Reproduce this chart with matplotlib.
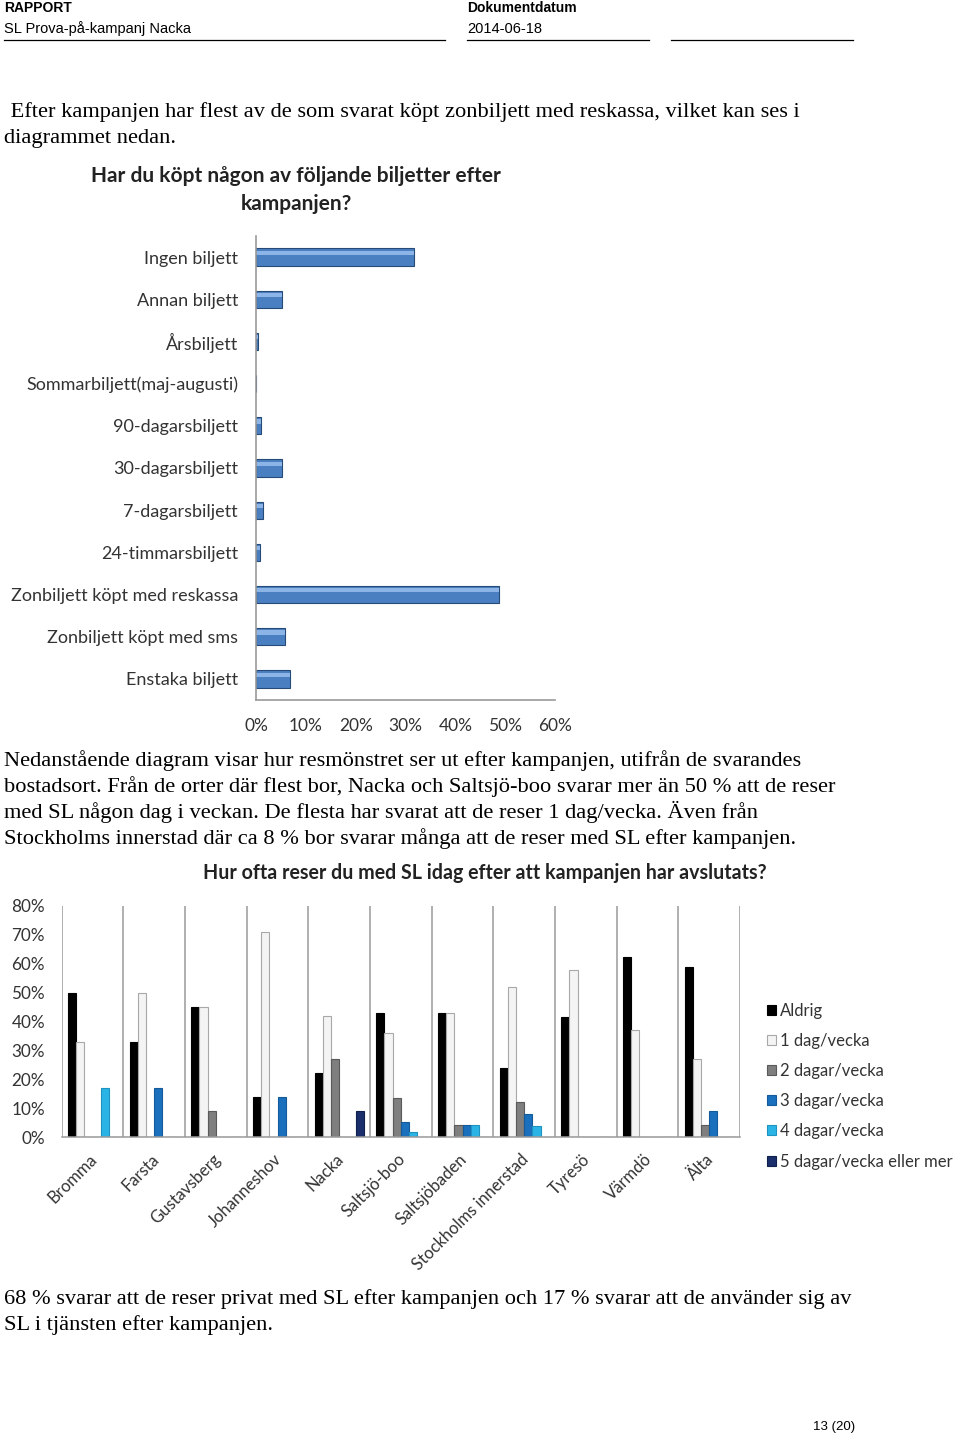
import numpy as np
import matplotlib
matplotlib.use("Agg")
import matplotlib.pyplot as plt

# ---- data: chart 1 (ticket types bought after the campaign)
ticket_types = ["Ingen biljett", "Annan biljett", "Årsbiljett",
                "Sommarbiljett(maj-augusti)", "90-dagarsbiljett",
                "30-dagarsbiljett", "7-dagarsbiljett", "24-timmarsbiljett",
                "Zonbiljett köpt med reskassa", "Zonbiljett köpt med sms",
                "Enstaka biljett"]
ticket_share = [31.7, 5.2, 0.5, 0.0, 1.1, 5.2, 1.5, 0.8, 48.8, 5.8, 6.9]
ticket_ticks = [0, 10, 20, 30, 40, 50, 60]

# ---- data: chart 2 (travel frequency per area)
areas = ["Bromma", "Farsta", "Gustavsberg", "Johanneshov", "Nacka",
         "Saltsjö-boo", "Saltsjöbaden", "Stockholms innerstad", "Tyresö",
         "Värmdö", "Älta"]
freq_labels = ["Aldrig", "1 dag/vecka", "2 dagar/vecka", "3 dagar/vecka",
               "4 dagar/vecka", "5 dagar/vecka eller mer"]
aldrig = [50, 33, 45, 14, 22, 43, 43, 24, 41.5, 62.5, 59]
dag1 = [33, 50, 45, 71, 42, 36, 43, 52, 58, 37, 27]
dag2 = [0, 0, 9, 0, 27, 13.5, 4.3, 12, 0, 0, 4.3]
dag3 = [0, 17, 0, 14, 0, 5.2, 4.3, 8, 0, 0, 9]
dag4 = [17, 0, 0, 0, 0, 1.7, 4.3, 3.8, 0, 0, 0]
dag5 = [0, 0, 0, 0, 9, 0, 0, 0, 0, 0, 0]
freq_ticks = [0, 10, 20, 30, 40, 50, 60, 70, 80]

W, H = 960, 1436
fig = plt.figure(figsize=(W / 100, H / 100), dpi=100)


def fx(x):
    return x / W


def fy(y):
    return 1 - y / H


def box(l, t, r, b):
    return [fx(l), fy(b), (r - l) / W, (b - t) / H]


# ---- page header
hdr = "Liberation Sans"
fig.text(fx(4), fy(8), "RAPPORT", family=hdr, weight="bold", fontsize=10, va="center")
fig.text(fx(4), fy(29), "SL Prova-på-kampanj Nacka", family=hdr, fontsize=10.5, va="center")
fig.text(fx(467), fy(8), "Dokumentdatum", family=hdr, weight="bold", fontsize=10, va="center")
fig.text(fx(467), fy(29), "2014-06-18", family=hdr, fontsize=10.5, va="center")
for x0, x1 in [(4, 445), (467, 649), (671, 853)]:
    fig.add_artist(plt.Line2D([fx(x0), fx(x1)], [fy(39.5), fy(39.5)], color="black", lw=0.9))
fig.text(fx(855), fy(1427), "13 (20)", family=hdr, fontsize=9.5, ha="right", va="center")

# ---- body text
body = dict(family="Liberation Serif", fontsize=16.1, va="center")
fig.text(fx(5), fy(112), " Efter kampanjen har flest av de som svarat köpt zonbiljett med reskassa, vilket kan ses i", **body)
fig.text(fx(4), fy(138), "diagrammet nedan.", **body)
para = ["Nedanstående diagram visar hur resmönstret ser ut efter kampanjen, utifrån de svarandes",
        "bostadsort. Från de orter där flest bor, Nacka och Saltsjö-boo svarar mer än 50 % att de reser",
        "med SL någon dag i veckan. De flesta har svarat att de reser 1 dag/vecka. Även från",
        "Stockholms innerstad där ca 8 % bor svarar många att de reser med SL efter kampanjen."]
for i, line in enumerate(para):
    fig.text(fx(4), fy(761 + 25.7 * i), line, **body)
fig.text(fx(4), fy(1299), "68 % svarar att de reser privat med SL efter kampanjen och 17 % svarar att de använder sig av", **body)
fig.text(fx(4), fy(1325), "SL i tjänsten efter kampanjen.", **body)

cf = "Lato"

# ---- chart 1
ax1 = fig.add_axes(box(256, 236, 555, 700))
ypos = np.arange(len(ticket_types))
ax1.barh(ypos, ticket_share, height=0.41, color="#4a7fc1", edgecolor="#274b78", lw=0.8)
ax1.barh(ypos - 0.1, ticket_share, height=0.1, color="#8db4e6", lw=0)
ax1.set_ylim(len(ticket_types) - 0.5, -0.5)
ax1.set_xlim(0, 60)
ax1.set_yticks(ypos)
ax1.set_yticklabels(ticket_types, family=cf, fontsize=13, color="#333333")
ax1.set_xticks(ticket_ticks)
ax1.set_xticklabels([f"{t}%" for t in ticket_ticks], family=cf, fontsize=12.5, color="#333333")
ax1.tick_params(axis="y", length=0, pad=13)
ax1.tick_params(axis="x", length=0, pad=13)
for s in ["top", "right"]:
    ax1.spines[s].set_visible(False)
for s in ["left", "bottom"]:
    ax1.spines[s].set_color("#999999")
    ax1.spines[s].set_linewidth(1.2)
fig.text(fx(296), fy(176), "Har du köpt någon av följande biljetter efter", family=cf,
         weight="bold", fontsize=15, ha="center", va="center", color="#222222")
fig.text(fx(296), fy(204), "kampanjen?", family=cf, weight="bold", fontsize=15,
         ha="center", va="center", color="#222222")

# ---- chart 2
ax2 = fig.add_axes(box(61.7, 906, 740, 1137))
series = [aldrig, dag1, dag2, dag3, dag4, dag5]
faces = ["#000000", "#f4f4f4", "#7f7f7f", "#1a70bd", "#2ab4e6", "#1a2f6b"]
edges = ["#000000", "#a8a8a8", "#5a5a5a", "#155a99", "#1e93bf", "#10204d"]
bw = 0.133
xc = np.arange(len(areas)) + 0.5
handles = []
for k, (vals, fc, ec) in enumerate(zip(series, faces, edges)):
    off = (k - 2.5) * bw
    b = ax2.bar(xc + off, vals, width=bw, color=fc, edgecolor=ec, lw=0.8,
                label=freq_labels[k])
    handles.append(b)
ax2.set_xlim(0, len(areas))
ax2.set_ylim(0, 80)
ax2.set_yticks(freq_ticks)
ax2.set_yticklabels([f"{t}%" for t in freq_ticks], family=cf, fontsize=12.3, color="#333333")
ax2.set_xticks(np.arange(len(areas) + 1), minor=False)
ax2.set_xticklabels([])
ax2.grid(axis="x", color="#9a9a9a", lw=1.1)
ax2.set_axisbelow(True)
ax2.tick_params(axis="both", length=0)
ax2.tick_params(axis="y", pad=12)
for s in ["top", "right", "left"]:
    ax2.spines[s].set_visible(False)
ax2.spines["bottom"].set_color("#9a9a9a")
ax2.spines["bottom"].set_linewidth(1.1)
for i, name in enumerate(areas):
    ax2.annotate(name, xy=(xc[i], 0), xycoords="data", xytext=(-2.6, -10),
                 textcoords="offset points", rotation=45, rotation_mode="anchor",
                 ha="right", va="top", family=cf, fontsize=12, color="#333333")
fig.text(fx(485), fy(873), "Hur ofta reser du med SL idag efter att kampanjen har avslutats?",
         family=cf, weight="bold", fontsize=14.1, ha="center", va="center", color="#222222")
fig.legend(handles=handles, labels=freq_labels, loc="upper left",
           bbox_to_anchor=(fx(760), fy(996)), frameon=False, prop={"family": cf, "size": 12},
           handlelength=0.55, handleheight=0.55, handletextpad=0.25, labelspacing=0.85,
           borderaxespad=0, labelcolor="#333333")

fig.savefig("out.png", dpi=100)
